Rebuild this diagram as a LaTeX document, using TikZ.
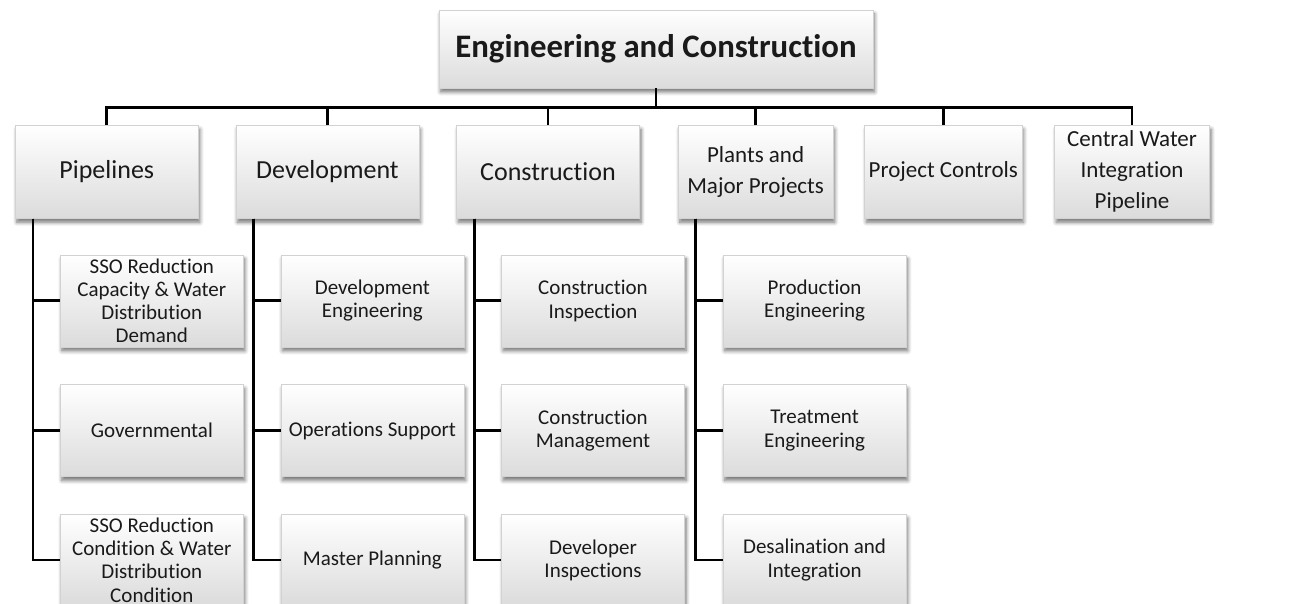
\documentclass[tikz,border=0pt]{standalone}
\usepackage{fontspec}
\setmainfont[Ligatures=NoCommon]{Carlito}
\usepackage{tikz}
\usetikzlibrary{positioning,shadows.blur}
\definecolor{orgink}{HTML}{1A1A1A}
\definecolor{orgedge}{HTML}{D2D2D2}

\begin{document}
\begin{tikzpicture}[x=0.5pt,y=-0.5pt,
  box/.style={draw=orgedge,line width=.3pt,top color=white,bottom color=black!14,
    inner xsep=2pt,inner ysep=0pt,align=center,text=orgink,
    blur shadow={shadow xshift=.8pt,shadow yshift=-2pt,shadow blur steps=6,shadow opacity=55}},
  head/.style={box,minimum width=217pt,minimum height=39pt,font=\fontsize{16.4}{19}\selectfont\bfseries},
  unit/.style={box,minimum width=91.5pt,minimum height=46.5pt,font=\fontsize{13}{15.5}\selectfont},
  unitsm/.style={box,minimum width=77.5pt,minimum height=46.5pt,font=\fontsize{11.5}{15.5}\selectfont},
  team/.style={box,minimum width=91.5pt,minimum height=46pt,font=\fontsize{10.5}{11.6}\selectfont},
  link/.style={draw=black,line width=1.4pt}
]
  \useasboundingbox (0,0) rectangle (1298,604);

  \node[head] (ec) at (656,49) {Engineering and Construction};

  \node[unit,anchor=north west] (pipe) at (15,125) {Pipelines};
  \node[unit,right=18.5pt of pipe] (dev) {Development};
  \node[unit,right=18.5pt of dev] (cons) {Construction};
  \node[unitsm,right=19pt of cons] (plant) {Plants and\\Major Projects};
  \node[unitsm,right=15.5pt of plant] (ctrl) {Project Controls};
  \node[unitsm,right=16pt of ctrl] (cwip) {Central Water\\Integration\\Pipeline};

  % pipelines
  \node[team,below right=18pt and 22.5pt of pipe.south west] (pipeA) {SSO Reduction\\Capacity \& Water\\Distribution\\Demand};
  \node[team,below=18.5pt of pipeA] (pipeB) {Governmental};
  \node[team,below=18.5pt of pipeB] (pipeC) {SSO Reduction\\Condition \& Water\\Distribution\\Condition};

  % development
  \node[team,below right=18pt and 22.5pt of dev.south west] (devA) {Development\\Engineering};
  \node[team,below=18.5pt of devA] (devB) {Operations Support};
  \node[team,below=18.5pt of devB] (devC) {Master Planning};

  % construction
  \node[team,below right=18pt and 22.5pt of cons.south west] (consA) {Construction\\Inspection};
  \node[team,below=18.5pt of consA] (consB) {Construction\\Management};
  \node[team,below=18.5pt of consB] (consC) {Developer\\Inspections};

  % plants
  \node[team,below right=18pt and 22.5pt of plant.south west] (plantA) {Production\\Engineering};
  \node[team,below=18.5pt of plantA] (plantB) {Treatment\\Engineering};
  \node[team,below=18.5pt of plantB] (plantC) {Desalination and\\Integration};

  \foreach \u in {pipe,dev,cons,plant,ctrl,cwip}
    \draw[link] (ec.south) -- ++(0,19) -| (\u.north);

  \foreach \u in {pipe,dev,cons,plant}
    \foreach \t in {A,B,C}
      \draw[link] ([xshift=9pt]\u.south west) |- (\u\t.west);
\end{tikzpicture}
\end{document}
